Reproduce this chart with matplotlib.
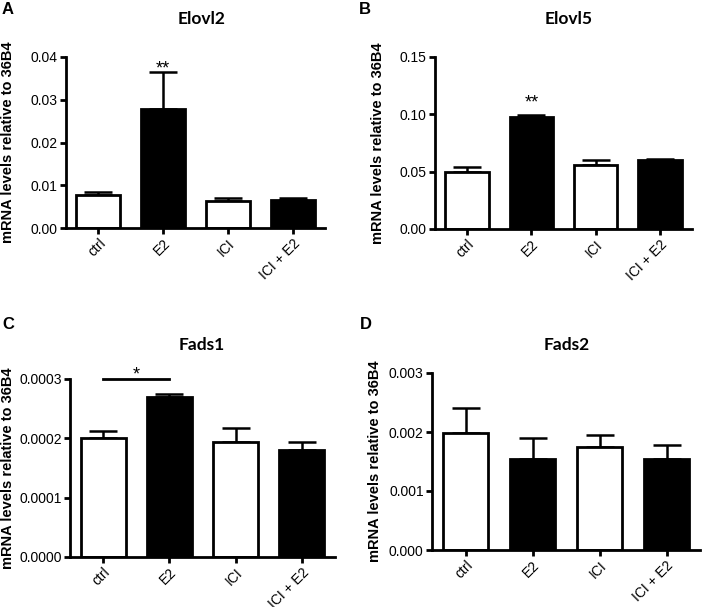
import matplotlib
matplotlib.use("Agg")
import matplotlib.pyplot as plt
import numpy as np

# Group labels shared by all four panels
groups = ["ctrl", "E2", "ICI", "ICI + E2"]
fills = ["white", "black", "white", "black"]

# Panel values (mean, SEM)
elovl2_mean = [0.0078, 0.0278, 0.0062, 0.0066]
elovl2_err = [0.0006, 0.0088, 0.0008, 0.0005]

elovl5_mean = [0.0498, 0.0975, 0.0555, 0.0603]
elovl5_err = [0.0040, 0.0020, 0.0050, 0.0007]

fads1_mean = [0.000200, 0.000270, 0.000193, 0.000180]
fads1_err = [0.000012, 0.000005, 0.000024, 0.000013]

fads2_mean = [0.00198, 0.00154, 0.00174, 0.00154]
fads2_err = [0.00042, 0.00036, 0.00021, 0.00024]

W, H = 705, 607

plt.rcParams['font.family'] = ['Liberation Sans', 'DejaVu Sans']
plt.rcParams['axes.linewidth'] = 2


def px_text(x, y, s, **kw):
    # place a figure text at pixel coords measured from the top-left corner
    fig.text(x / W, 1 - y / H, s, **kw)


def bar_panel(box, means, errs, ymax, yticks, fmt, label_x):
    # box = (left, top, right, bottom) in pixels
    l, t, r, b = box
    ax = fig.add_axes([l / W, 1 - b / H, (r - l) / W, (b - t) / H])
    x = np.arange(len(groups))
    ax.errorbar(x, means, yerr=[[0] * len(errs), errs], fmt='none',
                ecolor='black', elinewidth=1.8, capsize=10, capthick=1.8, zorder=1)
    ax.bar(x, means, width=0.68, color=fills, edgecolor='black', linewidth=2, zorder=2)
    ax.set_xlim(-0.5, 3.5)
    ax.set_ylim(0, ymax)
    ax.set_yticks(yticks)
    ax.set_yticklabels([fmt.format(v) for v in yticks], fontsize=10)
    ax.set_xticks(x)
    ax.set_xticklabels(groups, rotation=45, ha='right', rotation_mode='anchor', fontsize=10)
    ax.tick_params(axis='both', direction='out', length=4, width=2, pad=2)
    for side in ['top', 'right']:
        ax.spines[side].set_visible(False)
    ax.set_ylabel("mRNA levels relative to 36B4", fontsize=10.5, fontweight='bold')
    # label_x is the pixel column of the label's right edge
    ax.yaxis.set_label_coords((label_x - l) / (r - l), 0.5)
    return ax


def stars(ax, i, means, errs, s, dy):
    ax.annotate(s, (i, means[i] + errs[i]), xytext=(0, dy), textcoords='offset points',
                ha='center', va='baseline', fontsize=13)


fig = plt.figure(figsize=(W / 100, H / 100), dpi=100)

axA = bar_panel((66, 57, 325, 228), elovl2_mean, elovl2_err,
                0.04, [0.0, 0.01, 0.02, 0.03, 0.04], "{:.2f}", 15)
stars(axA, 1, elovl2_mean, elovl2_err, "**", -1.5)

axB = bar_panel((435, 57, 692, 229), elovl5_mean, elovl5_err,
                0.15, [0.0, 0.05, 0.10, 0.15], "{:.2f}", 385)
stars(axB, 1, elovl5_mean, elovl5_err, "**", 5)

axC = bar_panel((70, 379, 335, 557), fads1_mean, fads1_err,
                0.0003, [0.0, 0.0001, 0.0002, 0.0003], "{:.4f}", 15)
axC.plot([0, 1], [0.0003, 0.0003], color='black', linewidth=2, clip_on=False)
axC.annotate("*", (0.5, 0.0003), xytext=(0, -0.5), textcoords='offset points',
             ha='center', va='baseline', fontsize=13)

axD = bar_panel((432, 373, 700, 550), fads2_mean, fads2_err,
                0.003, [0.0, 0.001, 0.002, 0.003], "{:.3f}", 382)

# Panel titles
title_kw = dict(fontsize=12.5, fontweight='bold', family=['Lato', 'DejaVu Sans'],
                ha='center', va='center')
px_text(202, 19, "Elovl2", **title_kw)
px_text(569, 19, "Elovl5", **title_kw)
px_text(202, 345, "Fads1", **title_kw)
px_text(567, 345, "Fads2", **title_kw)

# Panel letters
for letter, (lx, ly) in zip("ABCD", [(2, 9), (359, 9), (2, 325), (360, 325)]):
    px_text(lx, ly, letter, fontsize=12, fontweight='bold', ha='left', va='center')

fig.savefig("out.png", dpi=100)
